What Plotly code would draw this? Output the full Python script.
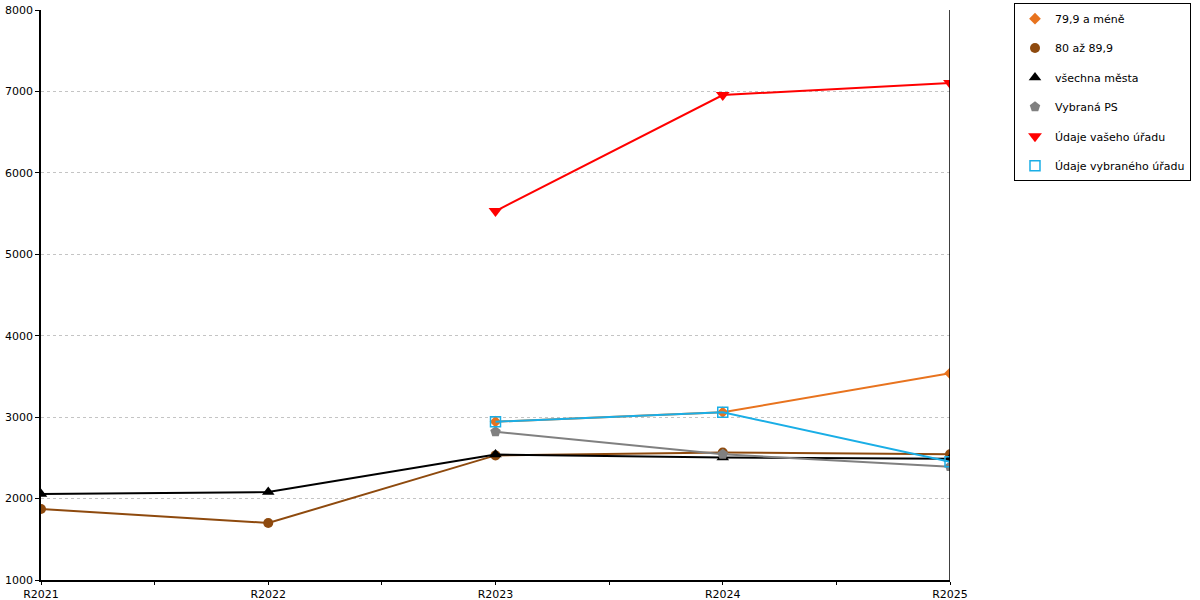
import plotly.graph_objects as go

# categories on the x axis
years = ["R2021", "R2022", "R2023", "R2024", "R2025"]

# series values (None = no data)
under_80 = [None, None, 2944, 3060, 3538]
from_80_to_90 = [1872, 1700, 2530, 2565, 2544]
all_cities = [2056, 2080, 2540, 2505, 2490]
selected_ps = [None, None, 2821, 2544, 2392]
your_office = [None, None, 5531, 6956, 7103]
selected_office = [None, None, 2944, 3060, 2453]

series = [
    ("79,9 a méně", under_80, "#E8731E", "diamond", 9),
    ("80 až 89,9", from_80_to_90, "#8E4A0E", "circle", 10),
    ("všechna města", all_cities, "#000000", "triangle-up", 11),
    ("Vybraná PS", selected_ps, "#808080", "pentagon", 11),
    ("Údaje vašeho úřadu", your_office, "#FF0000", "triangle-down", 12),
    ("Údaje vybraného úřadu", selected_office, "#1AAEE6", "square-open", 10),
]

x_pos = list(range(len(years)))

fig = go.Figure()

for i, (name, values, color, symbol, size) in enumerate(series):
    border = 1.5 if symbol == "square-open" else 0
    # real trace, hidden from legend
    fig.add_trace(go.Scatter(
        x=x_pos, y=values, mode="lines+markers", name=name,
        line=dict(color=color, width=2),
        marker=dict(color=color, symbol=symbol, size=size,
                    line=dict(width=border, color=color)),
        showlegend=False, connectgaps=False,
    ))
    # legend entry with marker only
    fig.add_trace(go.Scatter(
        x=[None], y=[None], mode="markers", name=name,
        marker=dict(color=color, symbol=symbol, size=size,
                    line=dict(width=border, color=color)),
        legendgroup=f"g{i}", showlegend=True,
    ))

# vertical line at the right edge of the plot
fig.add_shape(type="line", xref="x", yref="paper", x0=4, x1=4, y0=0, y1=1,
              line=dict(color="black", width=1.5))

# tick positions including midpoints between categories
tickvals = [v / 2 for v in range(9)]
ticktext = [years[int(v)] if v == int(v) else "" for v in tickvals]

fig.update_layout(
    width=1200, height=600,
    plot_bgcolor="white", paper_bgcolor="white",
    margin=dict(l=41, r=250, t=10, b=20, autoexpand=False),
    font=dict(family="DejaVu Sans", size=11, color="black"),
    xaxis=dict(
        range=[0, 4], tickvals=tickvals, ticktext=ticktext,
        showgrid=False, zeroline=False, showline=True,
        linecolor="black", linewidth=1.5, automargin=False,
        ticks="outside", ticklen=3, tickcolor="black",
        tickfont=dict(size=11),
    ),
    yaxis=dict(
        range=[1000, 8000], dtick=1000,
        showgrid=True, gridcolor="#C4C4C4", griddash="dot", gridwidth=1,
        zeroline=False, showline=True, linecolor="black", linewidth=1.5,
        automargin=False,
        ticks="outside", ticklen=4, tickcolor="black",
        tickfont=dict(size=11),
    ),
    legend=dict(
        x=1.0704, y=1.012, xanchor="left", yanchor="top",
        bordercolor="black", borderwidth=1,
        font=dict(size=11), tracegroupgap=10.4,
        itemsizing="trace", itemwidth=30,
    ),
)

# drop the default page margin so the figure sits at the window's corner
fig.write_html("out.html", config={"displayModeBar": False},
               post_script="document.body.style.margin='0';")
